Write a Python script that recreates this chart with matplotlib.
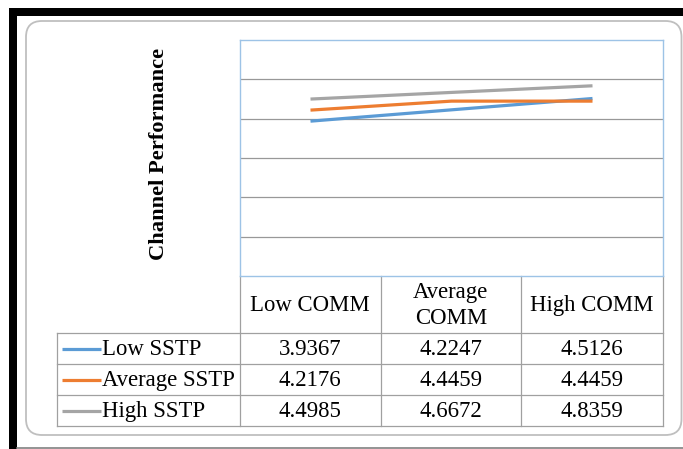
import matplotlib
matplotlib.use("Agg")
import matplotlib.pyplot as plt
from matplotlib.patches import FancyBboxPatch, Rectangle

categories = ["Low COMM", "Average\nCOMM", "High COMM"]
series_names = ["Low SSTP", "Average SSTP", "High SSTP"]
low_sstp = [3.9367, 4.2247, 4.5126]
avg_sstp = [4.2176, 4.4459, 4.4459]
high_sstp = [4.4985, 4.6672, 4.8359]
series_values = [low_sstp, avg_sstp, high_sstp]
colors = ["#5B9BD5", "#ED7D31", "#A5A5A5"]
y_label = "Channel Performance"

plt.rcParams['font.family'] = ['Liberation Serif', 'DejaVu Serif']

W, H = 683, 449
fig = plt.figure(figsize=(W / 100, H / 100), dpi=100)

# overlay axes in pixel coordinates
ov = fig.add_axes([0, 0, 1, 1])
ov.set_xlim(0, W)
ov.set_ylim(H, 0)
ov.axis("off")

# black frame pieces
ov.add_patch(Rectangle((9, 8), W - 9, 7.5, color="black", lw=0))
ov.add_patch(Rectangle((9, 8), 8, H - 8, color="black", lw=0))
ov.plot([17, W], [448, 448], color="#808080", lw=1.2)

# rounded chart border
ov.add_patch(FancyBboxPatch((26, 21), 681.5 - 26, 435 - 21,
                            boxstyle="round,pad=0,rounding_size=16",
                            fc="white", ec="#BFBFBF", lw=1.3))

# plot area
left, right, top, bottom = 240, 663, 40, 276
ax = fig.add_axes([left / W, 1 - bottom / H, (right - left) / W, (bottom - top) / H])
ax.set_facecolor("none")
x = list(range(len(categories)))
ax.set_xlim(-0.5, len(categories) - 0.5)
ax.set_ylim(0, 6)
ax.set_yticks(range(1, 6))
ax.grid(axis="y", color="#989898", lw=0.9)
ax.set_xticks([])
ax.tick_params(left=False, labelleft=False)
for s in ax.spines.values():
    s.set_color("#9DC3E6")
    s.set_linewidth(1.0)
for vals, c, name in zip(series_values, colors, series_names):
    ax.plot(x, vals, color=c, lw=2.3, solid_capstyle="butt", label=name)

fig.text(159 / W, 1 - 154 / H, y_label, rotation=90, ha="center", va="center",
         fontsize=16.2, fontweight="bold")

# data table
tc = "#A0A0A0"
col_edges = [57, 240, 380.5, 521, 663]
row_edges = [276, 333, 364, 395, 426]
# horizontal lines
for y in row_edges[1:]:
    ov.plot([col_edges[0], col_edges[-1]], [y, y], color=tc, lw=0.9)
# vertical lines
ov.plot([col_edges[0], col_edges[0]], [row_edges[1], row_edges[-1]], color=tc, lw=0.9)
for xe in col_edges[1:]:
    ov.plot([xe, xe], [row_edges[0], row_edges[-1]], color=tc, lw=0.9)

fs = 16.4
for j, cat in enumerate(categories):
    cx = (col_edges[j + 1] + col_edges[j + 2]) / 2
    ov.text(cx, (row_edges[0] + row_edges[1]) / 2 + 1, cat, ha="center", va="center",
            fontsize=fs, linespacing=1.3)

for i, (name, vals, c) in enumerate(zip(series_names, series_values, colors)):
    cy = (row_edges[i + 1] + row_edges[i + 2]) / 2
    ov.plot([62, 101], [cy, cy], color=c, lw=2.3, solid_capstyle="butt")
    ov.text(102, cy + 1, name, ha="left", va="center", fontsize=fs)
    for j, v in enumerate(vals):
        cx = (col_edges[j + 1] + col_edges[j + 2]) / 2
        ov.text(cx, cy + 1, f"{v:.4f}", ha="center", va="center", fontsize=fs)

fig.savefig("out.png", dpi=100)
